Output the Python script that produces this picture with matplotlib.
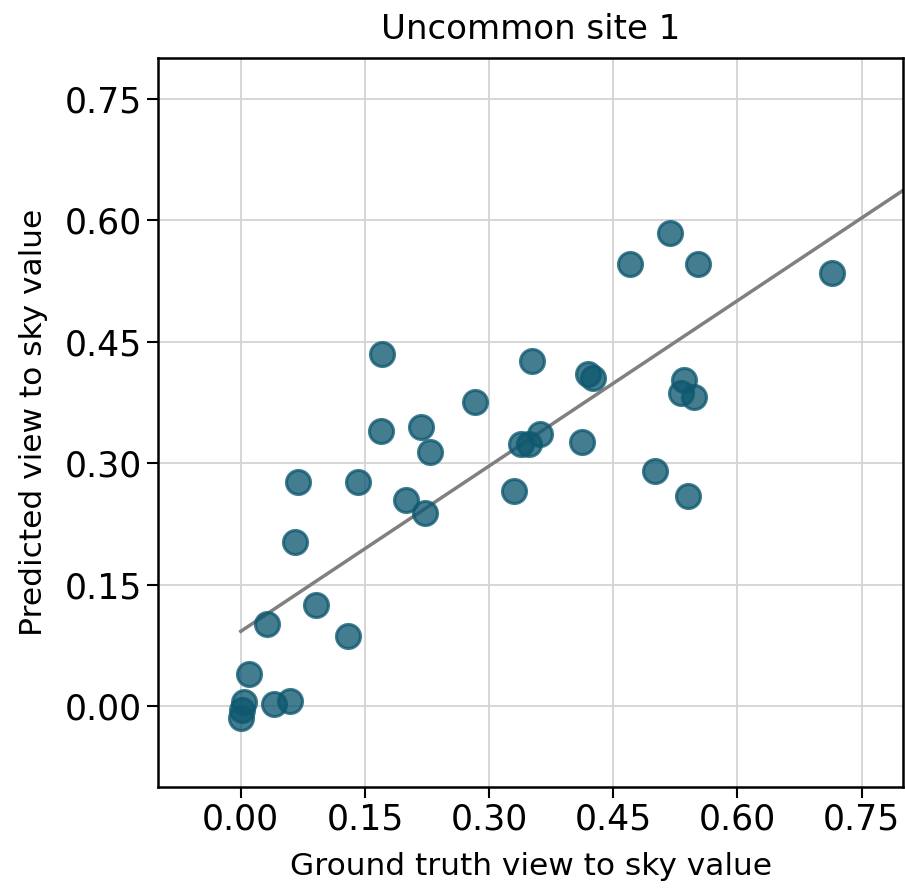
import matplotlib
matplotlib.use("Agg")
import matplotlib.pyplot as plt
import numpy as np

# ground truth vs predicted view-to-sky values
truth = [0.000, 0.002, 0.004, 0.010, 0.040, 0.059, 0.032, 0.091, 0.129,
         0.066, 0.069, 0.142, 0.199, 0.223, 0.169, 0.218, 0.229, 0.170,
         0.352, 0.420, 0.425, 0.283, 0.339, 0.348, 0.362, 0.412, 0.330,
         0.519, 0.470, 0.552, 0.714, 0.536, 0.532, 0.548, 0.500, 0.540]
predicted = [-0.015, -0.005, 0.005, 0.040, 0.002, 0.006, 0.101, 0.125, 0.086,
             0.203, 0.277, 0.277, 0.254, 0.238, 0.340, 0.345, 0.313, 0.435,
             0.426, 0.410, 0.405, 0.375, 0.323, 0.323, 0.336, 0.326, 0.266,
             0.584, 0.546, 0.546, 0.534, 0.402, 0.386, 0.382, 0.290, 0.259]

ticks = [0.00, 0.15, 0.30, 0.45, 0.60, 0.75]

fig = plt.figure(figsize=(9.05, 8.91), dpi=100)
ax = fig.add_axes([0.1746, 0.1167, 0.8232, 0.8182])

ax.grid(True, color="#d3d3d3", linewidth=1.3, zorder=0)
ax.set_axisbelow(True)

ax.scatter(truth, predicted, s=300, color="#0e5870", alpha=0.78,
           linewidths=2.2, zorder=3)

slope, icpt = np.polyfit(truth, predicted, 1)
xs = np.array([0.0, 0.8])
ax.plot(xs, slope * xs + icpt, color="grey", linewidth=2.5, zorder=2)

ax.set_xlim(-0.1, 0.8)
ax.set_ylim(-0.1, 0.8)
ax.set_xticks(ticks)
ax.set_yticks(ticks)
ax.set_xticklabels([f"{t:.2f}" for t in ticks])
ax.set_yticklabels([f"{t:.2f}" for t in ticks])
ax.tick_params(labelsize=25, length=8, width=1.5)
for s in ax.spines.values():
    s.set_linewidth(1.8)

ax.set_xlabel("Ground truth view to sky value", fontsize=22.5, labelpad=11)
ax.set_ylabel("Predicted view to sky value", fontsize=22.5, labelpad=12)
ax.set_title("Uncommon site 1", fontsize=24.5, pad=14)

fig.savefig("out.png", dpi=100)
